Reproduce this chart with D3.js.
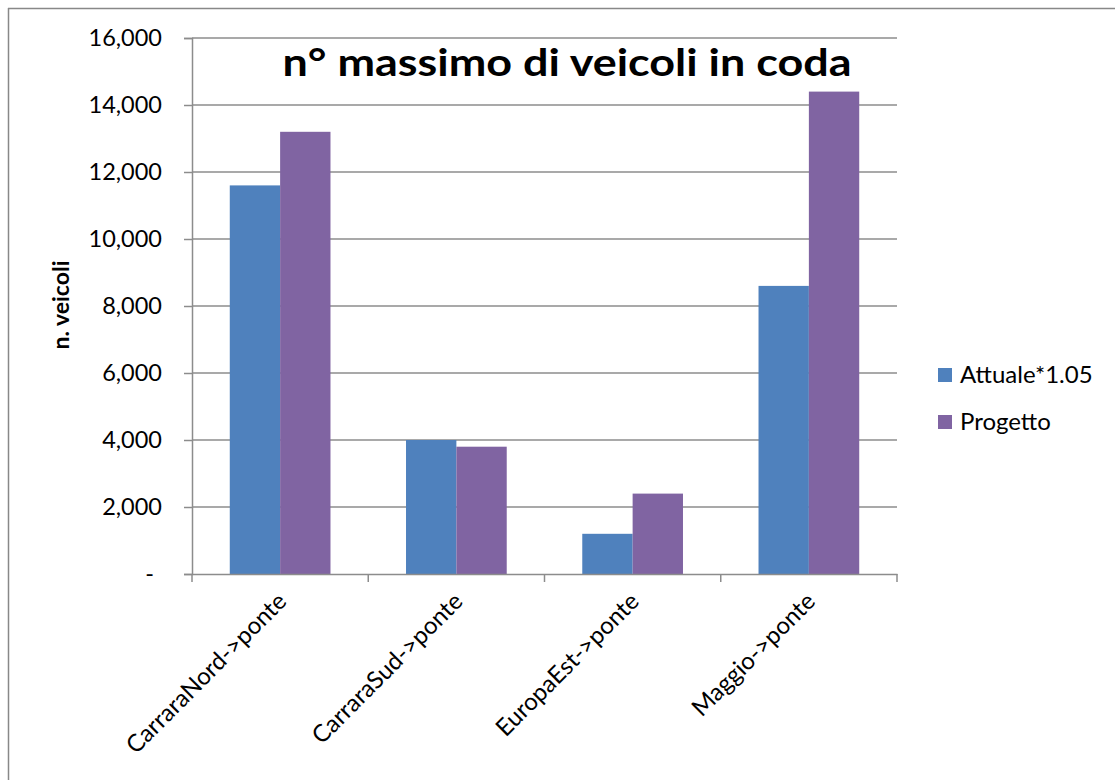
<!DOCTYPE html>
<html>
<head>
<meta charset="utf-8">
<script src="https://cdn.jsdelivr.net/npm/d3@7"></script>
<style>
  body { margin: 0; background: #fff; }
  text { font-family: Lato, "Open Sans", sans-serif; fill: #000; }
</style>
</head>
<body>
<div id="chart"></div>
<script>
var categories = ["CarraraNord->ponte", "CarraraSud->ponte", "EuropaEst->ponte", "Maggio->ponte"];
var seriesNames = ["Attuale*1.05", "Progetto"];
var attuale = [11600, 4000, 1200, 8600];
var progetto = [13200, 3800, 2400, 14400];
var yTicks = [0, 2000, 4000, 6000, 8000, 10000, 12000, 14000, 16000];
var colors = ["#4F81BD", "#8064A2"];

var width = 1115,
    height = 780,
    margin = {left: 192, right: 218, top: 38, bottom: 206};

var svg = d3.select("#chart").append("svg")
    .attr("width", width)
    .attr("height", height);

// outer frame (only top and left visible)
svg.append("line").attr("x1", 8).attr("x2", width).attr("y1", 8.5).attr("y2", 8.5)
    .attr("stroke", "#888").attr("stroke-width", 1.5);
svg.append("line").attr("x1", 8.5).attr("x2", 8.5).attr("y1", 8).attr("y2", height)
    .attr("stroke", "#888").attr("stroke-width", 1.5);

var x = d3.scaleBand()
    .domain(categories)
    .range([margin.left, width - margin.right])
    .paddingInner(0)
    .paddingOuter(0);

var y = d3.scaleLinear()
    .domain([0, 16000])
    .range([height - margin.bottom, margin.top]);

var x1 = d3.scaleBand()
    .domain(seriesNames)
    .range([0, x.bandwidth()])
    .paddingInner(0)
    .paddingOuter(0.75);

// gridlines
svg.append("g").selectAll("line")
    .data(yTicks.slice(1))
    .enter().append("line")
    .attr("x1", margin.left)
    .attr("x2", width - margin.right)
    .attr("y1", function(d) { return y(d); })
    .attr("y2", function(d) { return y(d); })
    .attr("stroke", "#8c8c8c")
    .attr("stroke-width", 1.5);

// y axis
var yAxis = svg.append("g")
    .attr("transform", "translate(" + margin.left + ",0)")
    .call(d3.axisLeft(y).tickValues(yTicks).tickSize(8).tickPadding(22)
        .tickFormat(function(d) { return d === 0 ? "-" : d3.format(",")(d); }));
yAxis.selectAll("path, line").attr("stroke", "#8c8c8c").attr("stroke-width", 1.5);
yAxis.selectAll("text").style("font-size", "23.5px").style("font-family", "Lato, sans-serif");
yAxis.selectAll("text").filter(function(d) { return d === 0; }).attr("dx", -8);

// bars
var data = categories.map(function(c, i) {
    return {cat: c, values: [attuale[i], progetto[i]]};
});

svg.append("g").selectAll("g")
    .data(data)
    .enter().append("g")
    .attr("transform", function(d) { return "translate(" + x(d.cat) + ",0)"; })
    .selectAll("rect")
    .data(function(d) { return d.values.map(function(v, j) { return {s: seriesNames[j], v: v, j: j}; }); })
    .enter().append("rect")
    .attr("x", function(d) { return x1(d.s); })
    .attr("width", x1.bandwidth())
    .attr("y", function(d) { return y(d.v); })
    .attr("height", function(d) { return y(0) - y(d.v); })
    .attr("fill", function(d) { return colors[d.j]; });

// x axis
var xAxis = svg.append("g")
    .attr("transform", "translate(0," + y(0) + ")")
    .call(d3.axisBottom(x).tickSize(0).tickFormat(""));
xAxis.select("path").attr("stroke", "#8c8c8c").attr("stroke-width", 1.5);

var xEdges = categories.map(function(c) { return x(c); }).concat([width - margin.right]);
svg.append("g").selectAll("line")
    .data(xEdges)
    .enter().append("line")
    .attr("x1", function(d) { return d; })
    .attr("x2", function(d) { return d; })
    .attr("y1", y(0))
    .attr("y2", y(0) + 8)
    .attr("stroke", "#8c8c8c")
    .attr("stroke-width", 1.5);

svg.append("g").selectAll("text")
    .data(categories)
    .enter().append("text")
    .attr("transform", function(d) {
        return "translate(" + (x(d) + x.bandwidth() / 2 - 4) + "," + (y(0) + 17) + ") rotate(-45)";
    })
    .attr("text-anchor", "end")
    .attr("dy", "0.7em")
    .style("font-size", "24px")
    .text(function(d) { return d; });

// title
svg.append("text")
    .attr("x", 567)
    .attr("y", 76)
    .attr("text-anchor", "middle")
    .style("font-size", "38px")
    .style("font-weight", "bold")
    .attr("textLength", 569)
    .attr("lengthAdjust", "spacingAndGlyphs")
    .text("n° massimo di veicoli in coda");

// y label
svg.append("text")
    .attr("transform", "translate(69,305) rotate(-90)")
    .attr("text-anchor", "middle")
    .style("font-size", "23px")
    .style("font-weight", "bold")
    .text("n. veicoli");

// legend
var legend = svg.append("g").selectAll("g")
    .data(seriesNames)
    .enter().append("g")
    .attr("transform", function(d, i) { return "translate(938," + (375 + i * 47) + ")"; });
legend.append("rect")
    .attr("x", 0).attr("y", -7).attr("width", 14).attr("height", 14)
    .attr("fill", function(d, i) { return colors[i]; });
legend.append("text")
    .attr("x", 22).attr("y", 0).attr("dy", "0.35em")
    .style("font-size", "24px")
    .text(function(d) { return d; });
</script>
</body>
</html>
